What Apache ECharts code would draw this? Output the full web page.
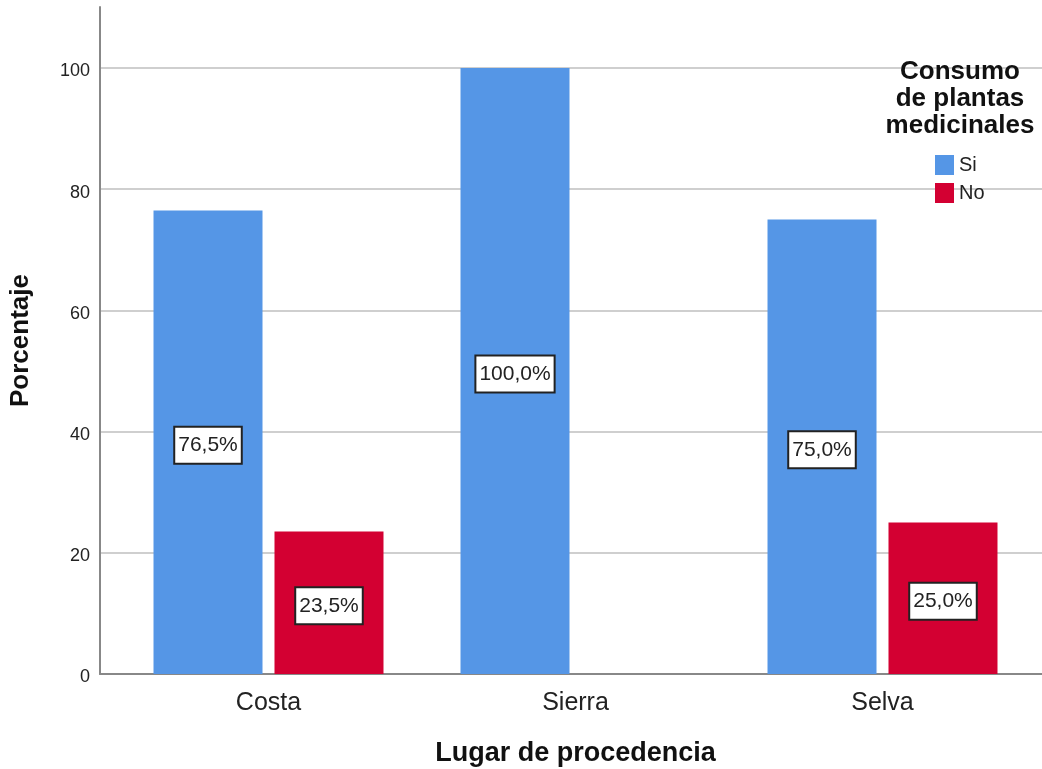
<!DOCTYPE html>
<html>
<head>
<meta charset="utf-8">
<script src="https://cdn.jsdelivr.net/npm/echarts@6/dist/echarts.min.js"></script>
<style>
  html, body { margin: 0; padding: 0; background: #fff; }
  #chart { width: 1042px; height: 769px; }
</style>
</head>
<body>
<div id="chart"></div>
<script>
const categories = ['Costa', 'Sierra', 'Selva'];
const siValues = [76.5, 100, 75];
const noValues = [23.5, null, 25];
const yTicks = [0, 20, 40, 60, 80, 100];

const FONT = '"Liberation Sans", Arial, sans-serif';
const chart = echarts.init(document.getElementById('chart'));

// etiqueta con coma decimal, como en SPSS
const pctLabel = {
  show: true,
  position: 'inside',
  offset: [0, 3],
  formatter: p => p.value.toFixed(1).replace('.', ',') + '%',
  fontFamily: FONT,
  fontSize: 21,
  color: '#222',
  backgroundColor: '#fff',
  borderColor: '#222',
  borderWidth: 2,
  padding: [8, 3, 6, 3]
};

const option = {
  animation: false,
  textStyle: { fontFamily: FONT },
  title: {
    text: 'Consumo\nde plantas\nmedicinales',
    left: 960,
    top: 58,
    padding: 0,
    textAlign: 'center',
    textStyle: { fontFamily: FONT, fontSize: 26, fontWeight: 'bold', color: '#111', lineHeight: 27 }
  },
  legend: {
    orient: 'vertical',
    left: 935,
    top: 155,
    padding: 0,
    icon: 'rect',
    itemWidth: 19,
    itemHeight: 20,
    itemGap: 8,
    textStyle: { fontFamily: FONT, fontSize: 20, color: '#222' },
    data: ['Si', 'No']
  },
  grid: [
    { left: 115, right: 6, top: 68, bottom: 95, outerBoundsMode: 'none' },   // barras
    { left: 100, right: 0, top: 68, bottom: 95, outerBoundsMode: 'none' },   // lineas de cuadricula
    { left: 100, right: 0, top: 7, bottom: 95, outerBoundsMode: 'none' }     // ejes
  ],
  xAxis: [
    {
      type: 'category',
      gridIndex: 0,
      data: categories,
      axisLine: { show: false },
      axisTick: { show: false },
      axisLabel: { fontFamily: FONT, fontSize: 25, color: '#222', margin: 17 },
      name: 'Lugar de procedencia',
      nameLocation: 'middle',
      nameGap: 66,
      nameTextStyle: { fontFamily: FONT, fontSize: 27, fontWeight: 'bold', color: '#111' }
    },
    { type: 'value', gridIndex: 1, show: false, min: 0, max: 1 },
    {
      type: 'value',
      gridIndex: 2,
      min: 0,
      max: 1,
      axisLine: { show: true, onZero: false, lineStyle: { color: '#888', width: 2 } },
      axisTick: { show: false },
      axisLabel: { show: false },
      splitLine: { show: false }
    }
  ],
  yAxis: [
    { type: 'value', gridIndex: 0, min: 0, max: 100, show: false },
    {
      type: 'value',
      gridIndex: 1,
      min: yTicks[0],
      max: yTicks[yTicks.length - 1],
      interval: 20,
      axisLine: { show: false },
      axisTick: { show: false },
      axisLabel: { fontFamily: FONT, fontSize: 18, color: '#222', margin: 10, verticalAlign: 'top', lineHeight: 7 },
      splitLine: { show: true, lineStyle: { color: '#cfcfcf', width: 2 } }
    },
    {
      type: 'value',
      gridIndex: 2,
      min: 0,
      max: 110,
      axisLine: { show: true, onZero: false, lineStyle: { color: '#888', width: 2 } },
      axisTick: { show: false },
      axisLabel: { show: false },
      splitLine: { show: false },
      name: 'Porcentaje',
      nameLocation: 'middle',
      nameGap: 66,
      nameTextStyle: { fontFamily: FONT, fontSize: 26, fontWeight: 'bold', color: '#111' }
    }
  ],
  series: [
    {
      name: 'Si',
      type: 'bar',
      xAxisIndex: 0,
      yAxisIndex: 0,
      data: siValues,
      barWidth: 109,
      barGap: '11%',
      itemStyle: { color: '#5596E6' },
      label: pctLabel
    },
    {
      name: 'No',
      type: 'bar',
      xAxisIndex: 0,
      yAxisIndex: 0,
      data: noValues,
      barWidth: 109,
      barGap: '11%',
      itemStyle: { color: '#D30032' },
      label: pctLabel
    }
  ]
};

chart.setOption(option);
</script>
</body>
</html>
